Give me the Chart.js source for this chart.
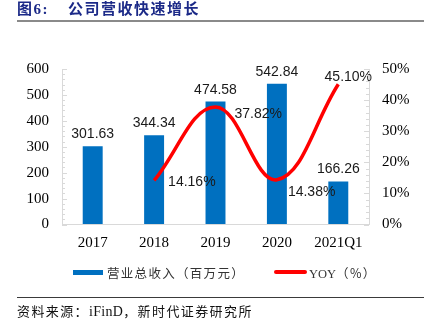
<!DOCTYPE html>
<html>
<head>
<meta charset="utf-8">
<script src="https://cdn.jsdelivr.net/npm/chart.js@4/dist/chart.umd.min.js"></script>
<style>
  html, body { margin: 0; padding: 0; background: #fff; }
  #wrap { position: relative; width: 424px; height: 334px; overflow: hidden; }
  #c { position: absolute; left: 0; top: 0; }
  .abs { position: absolute; white-space: nowrap; }
  #title { left: 17px; top: 0px; font: bold 15px 'Liberation Serif', 'Noto Sans CJK SC', serif; color: #1c2a88; letter-spacing: 1.5px; line-height: 19px; }
  #title .t2 { position: absolute; left: 51px; top: 0; }
  #rule1 { left: 17px; top: 20px; width: 407px; height: 2px; background: #8a8a8a; }
  #rule2 { left: 17px; top: 297px; width: 407px; height: 1px; background: #3a3a3a; }
  .lg { top: 264px; font: 12.5px 'Noto Sans CJK SC', sans-serif; color: #333; letter-spacing: 1.3px; line-height: 17px; }
  .narrow { letter-spacing: 0; font-family: 'Liberation Sans Narrow', 'Liberation Serif', serif; }
  .sw { position: absolute; }
  #src { left: 17px; top: 303px; font: 13px 'Liberation Serif', 'Noto Sans CJK SC', serif; color: #111; letter-spacing: 1.4px; line-height: 18px; }
  #src .latin { letter-spacing: 0.3px; font-size: 14px; }
</style>
</head>
<body>
<div id="wrap">
  <canvas id="c" width="424" height="334"></canvas>
  <div id="title" class="abs">图6:<span class="t2">公司营收快速增长</span></div>
  <div id="rule1" class="abs"></div>
  <div class="sw" style="left:73px;top:270px;width:30px;height:5px;background:#0070c0;"></div>
  <div class="abs lg" style="left:107px;">营业总收入（百万元）</div>
  <div class="sw" style="left:274px;top:270px;width:33px;height:4px;background:#ff0000;border-radius:2px;"></div>
  <div class="abs lg" style="left:309px;"><span class="narrow">YOY</span>（%）</div>
  <div id="rule2" class="abs"></div>
  <div id="src" class="abs">资料来源：<span class="latin">iFinD</span>，新时代证券研究所</div>
</div>
<script>
// Categories and series
const categories = ['2017', '2018', '2019', '2020', '2021Q1'];
const revenue = [301.63, 344.34, 474.58, 542.84, 166.26];   // 百万元
const yoy = [null, 14.16, 37.82, 14.38, 45.10];              // %
const revenueTicks = [0, 100, 200, 300, 400, 500, 600];
const yoyTicks = [0, 10, 20, 30, 40, 50];

// Where each growth label sits relative to its point: [dx, dy, align]
const yoyLabelPlacement = [null, [14, 2, 'left'], [19, 7, 'left'], [11, 12, 'left'], [10, -7, 'center']];

const AXIS_GRAY = '#d9d9d9';

// Small inward tick marks along both value axes
const minorTicks = {
  id: 'minorTicks',
  afterDraw(chart) {
    const ctx = chart.ctx;
    const y = chart.scales.y, y1 = chart.scales.y1;
    ctx.save();
    ctx.strokeStyle = AXIS_GRAY;
    ctx.lineWidth = 1;
    ctx.beginPath();
    for (let v = 0; v <= 600; v += 20) {
      const py = Math.round(y.getPixelForValue(v)) + 0.5;
      const len = v % 100 === 0 ? 5 : 3;
      ctx.moveTo(y.right, py); ctx.lineTo(y.right + len, py);
    }
    for (let v = 0; v <= 50; v += 2) {
      const py = Math.round(y1.getPixelForValue(v)) + 0.5;
      const len = v % 10 === 0 ? 5 : 3;
      ctx.moveTo(y1.left, py); ctx.lineTo(y1.left - len, py);
    }
    ctx.stroke();
    ctx.restore();
  }
};

// Value labels above bars and beside the growth line
const valueLabels = {
  id: 'valueLabels',
  afterDatasetsDraw(chart) {
    const ctx = chart.ctx;
    ctx.save();
    ctx.font = '14px "Liberation Sans", Arial, sans-serif';
    ctx.fillStyle = '#1a1a1a';
    const barMeta = chart.getDatasetMeta(0);
    barMeta.data.forEach((el, i) => {
      ctx.textAlign = 'center';
      ctx.textBaseline = 'alphabetic';
      ctx.fillText(revenue[i].toFixed(2), el.x, el.y - 8);
    });
    const lineMeta = chart.getDatasetMeta(1);
    lineMeta.data.forEach((el, i) => {
      if (yoy[i] == null) return;
      const [dx, dy, align] = yoyLabelPlacement[i];
      ctx.textAlign = align;
      ctx.textBaseline = 'middle';
      ctx.fillText(yoy[i].toFixed(2) + '%', el.x + dx, el.y + dy);
    });
    ctx.restore();
  }
};

const tickFont = { family: '"Liberation Serif", "Times New Roman", serif', size: 15 };

new Chart(document.getElementById('c'), {
  data: {
    labels: categories,
    datasets: [
      {
        type: 'bar',
        label: '营业总收入（百万元）',
        data: revenue,
        yAxisID: 'y',
        backgroundColor: '#0070c0',
        categoryPercentage: 1,
        barPercentage: 0.325,
        order: 2
      },
      {
        type: 'line',
        label: 'YOY（%）',
        data: yoy,
        yAxisID: 'y1',
        borderColor: '#ff0000',
        borderWidth: 3.5,
        pointRadius: 0,
        tension: 0.4,
        fill: false,
        order: 1
      }
    ]
  },
  options: {
    responsive: false,
    animation: false,
    devicePixelRatio: 1,
    layout: { padding: { top: 69, left: 0, right: 0, bottom: 0 } },
    plugins: { legend: { display: false }, tooltip: { enabled: false } },
    scales: {
      x: {
        grid: { display: true, drawOnChartArea: false, drawTicks: false },
        border: { color: AXIS_GRAY, width: 1 },
        ticks: { font: tickFont, color: '#000', padding: 10, maxRotation: 0 },
        afterFit(s) { s.height = 109.5; }
      },
      y: {
        position: 'left',
        min: 0, max: 600,
        afterBuildTicks(s) { s.ticks = revenueTicks.map(v => ({ value: v })); },
        grid: { display: true, drawOnChartArea: false, drawTicks: false },
        border: { color: AXIS_GRAY, width: 1 },
        ticks: { font: tickFont, color: '#000', padding: 13 },
        afterFit(s) { s.width = 62; }
      },
      y1: {
        position: 'right',
        min: 0, max: 50,
        afterBuildTicks(s) { s.ticks = yoyTicks.map(v => ({ value: v })); },
        grid: { display: true, drawOnChartArea: false, drawTicks: false },
        border: { color: AXIS_GRAY, width: 1 },
        ticks: { font: tickFont, color: '#000', padding: 13, callback: v => v + '%' },
        afterFit(s) { s.width = 55; }
      }
    }
  },
  plugins: [minorTicks, valueLabels]
});
</script>
</body>
</html>
